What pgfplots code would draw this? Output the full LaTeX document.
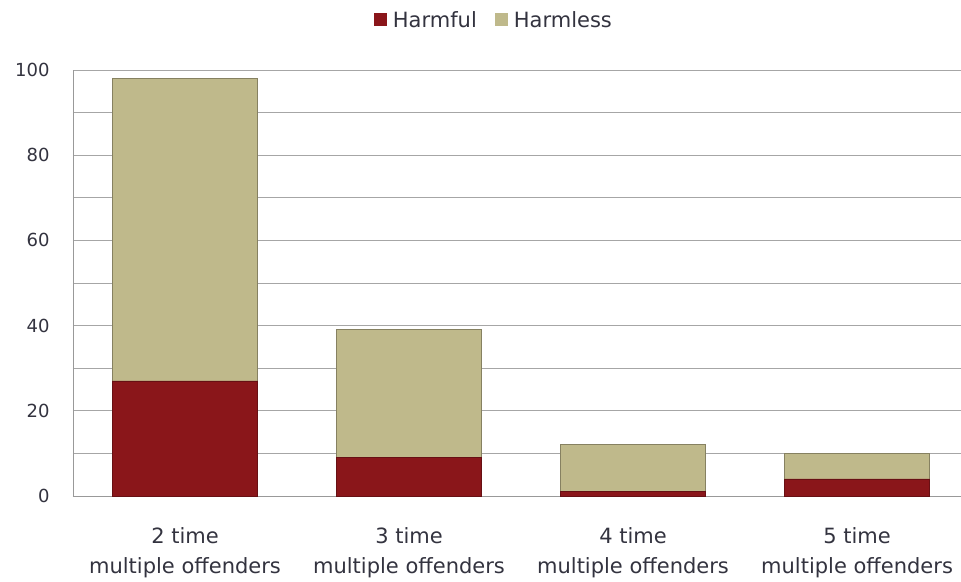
\documentclass[border=0pt]{standalone}
\usepackage{pgfplots}
\pgfplotsset{compat=1.18}
\usepackage{fontspec}
\setmainfont{DejaVu Sans}
\definecolor{harmful}{HTML}{8A161A}
\definecolor{harmless}{HTML}{BFB98B}
\definecolor{ticktext}{HTML}{33333F}
\begin{document}
\begin{tikzpicture}
\path[use as bounding box] (-73pt,-85pt) rectangle (888pt,496pt);
\begin{axis}[
  scale only axis, width=888pt, height=426pt,
  ybar stacked, bar width=145pt,
  xmin=-0.5, xmax=3.464, ymin=0, ymax=100,
  xtick={0,1,2,3},
  xticklabels={{2 time\\multiple offenders},{3 time\\multiple offenders},{4 time\\multiple offenders},{5 time\\multiple offenders}},
  xticklabel style={align=center, yshift=-28pt, font=\fontsize{21}{30}\selectfont},
  ytick={0,20,...,100}, minor ytick={10,30,...,90},
  ymajorgrids, yminorgrids,
  major grid style={black!35, line width=0.9pt},
  minor grid style={black!35, line width=0.9pt},
  axis x line*=bottom, axis y line*=left,
  axis line style={black!40, line width=0.9pt},
  major tick length=0pt, minor tick length=0pt,
  yticklabel style={xshift=-20pt, font=\fontsize{18}{22}\selectfont},
  tick label style={text=ticktext},
  /pgf/number format/assume math mode=true,
  legend style={at={(0.474,1.117)}, anchor=center, draw=none, fill=none,
    legend columns=-1, font=\fontsize{21}{24}\selectfont, text=ticktext,
    /tikz/every odd column/.append style={column sep=4pt},
    /tikz/every even column/.append style={column sep=16pt}},
  legend image code/.code={\draw[#1, draw=none] (0pt,-6pt) rectangle (13pt,7pt);},
  clip=false,
]
\addplot[fill=harmful, draw=harmful!75!black, line width=0.8pt] coordinates {(0,27) (1,9) (2,1) (3,4)};
\addplot[fill=harmless, draw=harmless!70!black, line width=0.8pt] coordinates {(0,71) (1,30) (2,11) (3,6)};
\legend{Harmful, Harmless}
\end{axis}
\end{tikzpicture}
\end{document}
